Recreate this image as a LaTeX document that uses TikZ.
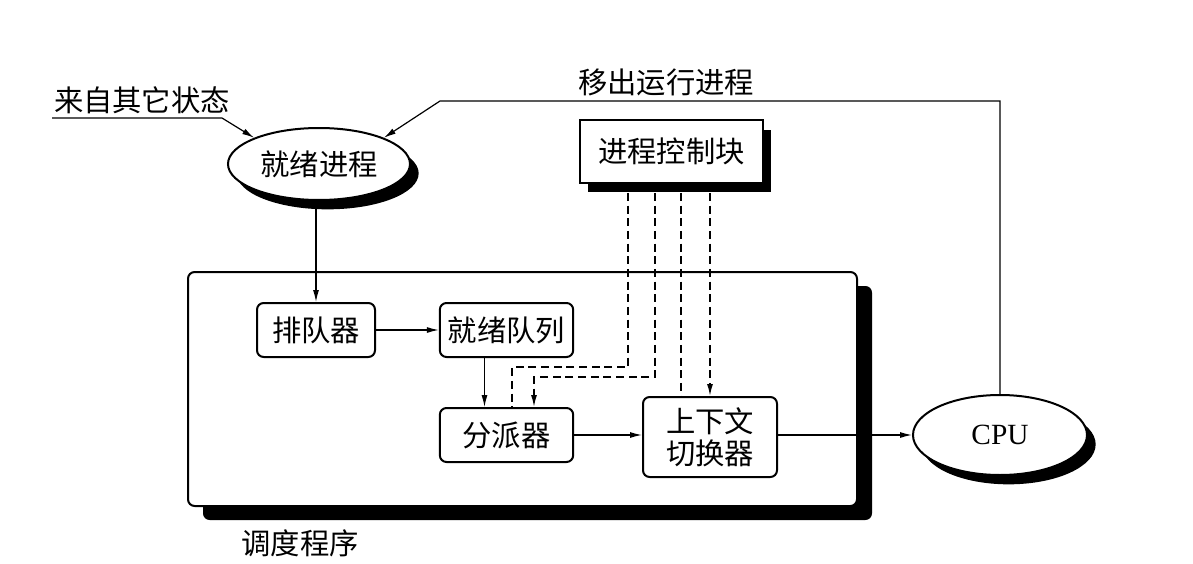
\documentclass[tikz,border=0pt]{standalone}
\usepackage{fontspec}
\setmainfont{Liberation Serif}
\newfontfamily\cjk{Noto Sans CJK SC}
\usetikzlibrary{arrows.meta,shapes.geometric,shadows}
\tikzset{
  cjkfont/.style={font=\cjk\fontsize{22pt}{24pt}\selectfont},
  box/.style={draw, line width=1.5pt, rounded corners=5pt, fill=white, inner sep=0pt, cjkfont, align=center},
  shbox/.style={draw, line width=1.5pt, fill=white, inner sep=0pt, cjkfont,
     drop shadow={shadow xshift=6pt, shadow yshift=-7pt, fill=black, opacity=1}},
  ell/.style={ellipse, draw, line width=1.5pt, fill=white, inner sep=0pt,
     drop shadow={shadow xshift=6.5pt, shadow yshift=-7pt, fill=black, opacity=1}},
  lbl/.style={inner sep=0pt, cjkfont},
  arr/.style={line width=0.9pt, -{Latex[length=9pt,width=4.5pt]}},
  dsh/.style={line width=1.1pt, dash pattern=on 6pt off 3.5pt},
  dsharr/.style={dsh, -{Latex[length=9pt,width=4.5pt]}}
}
\begin{document}
\begin{tikzpicture}[x=0.75pt,y=-0.75pt]
\useasboundingbox (0,0) rectangle (1193,564);
% big scheduler box
\node[draw, line width=1.5pt, rounded corners=5pt, fill=white, inner sep=0pt,
      minimum width=501.75pt, minimum height=175.5pt,
      drop shadow={shadow xshift=11.25pt, shadow yshift=-10.5pt, fill=black, opacity=1}]
      (sched) at (522.5,389) {};
\node[lbl] (schedlbl) at (300,543) {调度程序};

% nodes
\node[ell, minimum width=136.5pt, minimum height=54pt, cjkfont] (rdy) at (319,164) {就绪进程};
\node[ell, minimum width=130.5pt, minimum height=60pt, font=\fontsize{22pt}{24pt}\selectfont] (cpu) at (1000,435) {CPU};
\node[shbox, minimum width=137pt, minimum height=47pt] (pcb) at (671.5,151.5) {进程控制块};
\node[box, minimum width=88.5pt, minimum height=40.5pt] (que) at (316,330) {排队器};
\node[box, minimum width=100pt, minimum height=40.5pt] (rq) at (506.5,330) {就绪队列};
\node[box, minimum width=100pt, minimum height=40.5pt] (disp) at (506.5,435) {分派器};
\node[box, minimum width=100.5pt, minimum height=60pt] (ctx) at (710,437) {上下文\\切换器};

% labels
\node[lbl] (other) at (142,100) {来自其它状态};
\node[lbl] (moveout) at (666,82) {移出运行进程};

% connectors
\coordinate (src) at (52,118);
\coordinate (src2) at (222,118);
\draw[arr] (src) -- (src2) -- (rdy.158);
\coordinate (k1) at (440,101);
\draw[arr] (cpu.north) |- (k1) -- (rdy.22);
\draw[arr] (que.north |- rdy.south) -- (que.north);
\draw[arr] (que) -- (rq);
\draw[arr] ([xshift=-16.5pt]rq.south) -- ([xshift=-16.5pt]disp.north);
\draw[arr] (disp.east) -- (disp.east -| ctx.west);
\draw[arr] (ctx.east |- cpu.west) -- (cpu.west);

% dashed PCB links
\draw[dsh] ([shift={(-43.5,9)}]pcb.south) |- ([shift={(5.5,-40)}]disp.north) -- ([shift={(5.5,0)}]disp.north);
\draw[dsharr] ([shift={(-16.5,9)}]pcb.south) |- ([shift={(27.5,-30)}]disp.north) -- ([shift={(27.5,0)}]disp.north);
\draw[dsh] ([shift={(9.5,9)}]pcb.south) -- ([shift={(-29,0)}]ctx.north);
\draw[dsharr] ([shift={(38.5,9)}]pcb.south) -- (ctx.north);
\end{tikzpicture}
\end{document}
